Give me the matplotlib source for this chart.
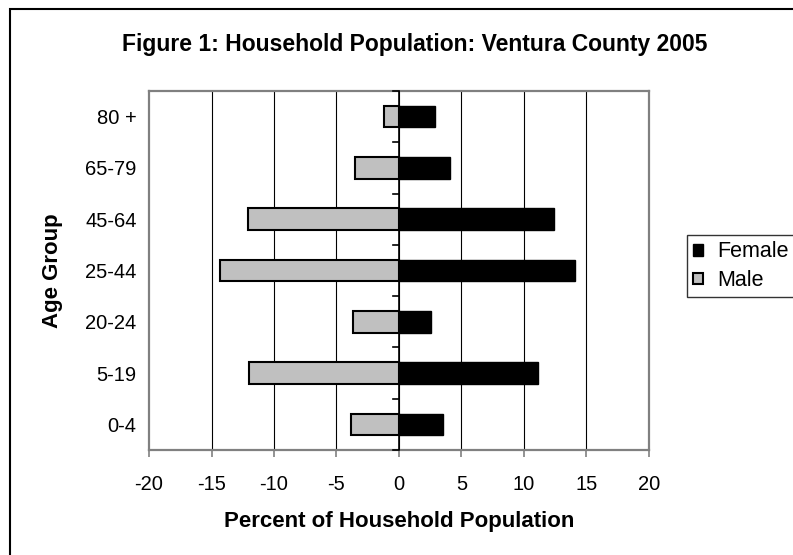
import numpy as np
import matplotlib
matplotlib.use('Agg')
import matplotlib.pyplot as plt
from matplotlib.patches import Patch, Rectangle

plt.rcParams['font.family'] = ['Liberation Sans', 'DejaVu Sans']

# data (percent of household population)
age_groups = ['0-4', '5-19', '20-24', '25-44', '45-64', '65-79', '80 +']
male = [-3.8, -12.0, -3.7, -14.3, -12.1, -3.5, -1.2]
female = [3.5, 11.1, 2.6, 14.1, 12.4, 4.1, 2.9]
x_ticks = [-20, -15, -10, -5, 0, 5, 10, 15, 20]

fig = plt.figure(figsize=(7.93, 5.55), dpi=100)
ax = fig.add_axes([0.1879, 0.1892, 0.6305, 0.6468])

y = np.arange(len(age_groups))
ax.barh(y, male, height=0.42, color='#C0C0C0', edgecolor='black', linewidth=1.5, zorder=3)
ax.barh(y, female, height=0.42, color='black', edgecolor='black', linewidth=1.0, zorder=3)

ax.set_xlim(-20, 20)
ax.set_ylim(-0.5, len(age_groups) - 0.5)
ax.set_xticks(x_ticks)
ax.set_xticklabels([str(t) for t in x_ticks], fontsize=14.5)
ax.set_yticks(y)
ax.set_yticklabels(age_groups, fontsize=14.5)
ax.tick_params(axis='y', length=0, pad=9)
ax.tick_params(axis='x', direction='out', length=5, width=1.2, color='#808080', pad=13)

# vertical gridlines
for t in x_ticks[1:-1]:
    ax.axvline(t, color='black', linewidth=0.8, zorder=1)
ax.axvline(0, color='black', linewidth=1.2, zorder=4)
# category tick marks on the zero axis
for b in np.arange(len(age_groups) + 1) - 0.5:
    ax.plot([-0.5, 0], [b, b], color='black', linewidth=1.2, zorder=4, clip_on=False)

for s in ax.spines.values():
    s.set_color('#808080')
    s.set_linewidth(1.6)

ax.set_xlabel('Percent of Household Population', fontsize=16, fontweight='bold', labelpad=12)
ax.set_ylabel('Age Group', fontsize=16, fontweight='bold', labelpad=16)
fig.text(0.523, 0.919, 'Figure 1: Household Population: Ventura County 2005',
         ha='center', va='center', fontsize=16.5, fontweight='bold')

handles = [Patch(facecolor='black', edgecolor='black', label='Female'),
           Patch(facecolor='#C0C0C0', edgecolor='black', linewidth=1.5, label='Male')]
leg = fig.legend(handles=handles, loc='upper left', bbox_to_anchor=(0.8663, 0.5766),
                 borderaxespad=0, fontsize=15.5, frameon=True, fancybox=False,
                 handlelength=0.45, handleheight=0.45, handletextpad=0.65,
                 borderpad=0.3, labelspacing=0.35)
leg.get_frame().set_edgecolor('black')
leg.get_frame().set_linewidth(1.0)

# chart area frame
fig.patches.append(Rectangle((0.012, -0.1), 1.1, 0.9838 + 0.1, transform=fig.transFigure,
                             fill=False, edgecolor='black', linewidth=1.5))

fig.savefig('out.png', dpi=100)
